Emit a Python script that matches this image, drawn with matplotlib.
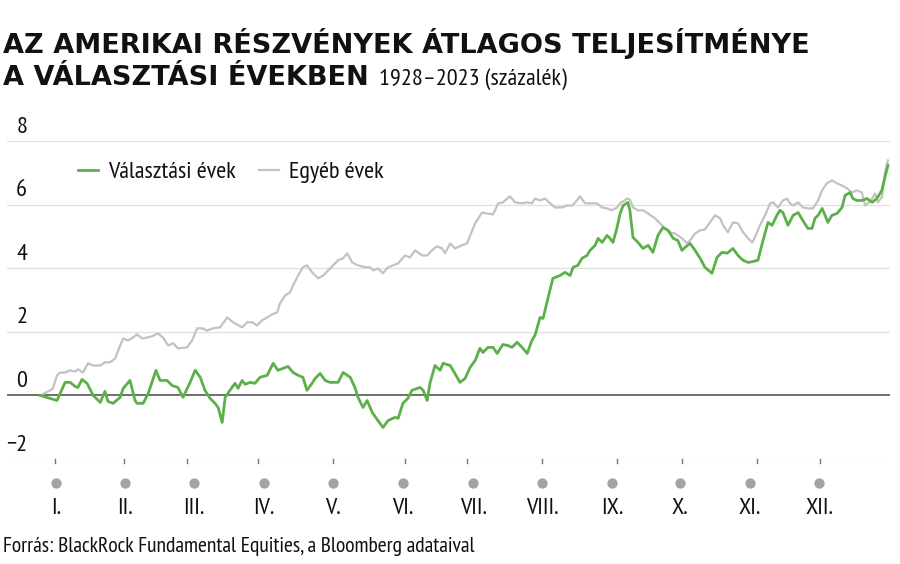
import matplotlib
matplotlib.use('Agg')
import matplotlib.pyplot as plt

plt.rcParams['font.family'] = ['PT Sans Narrow', 'Roboto Condensed', 'DejaVu Sans']

# trading day of the year and cumulative average return (%)
valasztasi_nap = [0, 5.0, 7.4, 8.9, 10.4, 11.2, 12.4, 13.9, 15.7, 17.8, 19.2, 20.1, 21.6, 23.7, 24.6,
                  26.6, 28.1, 28.7, 30.5, 32.0, 34.3, 35.5, 37.6, 39.1, 40.8, 42.3, 44.4, 45.9, 47.4,
                  48.8, 50.3, 51.8, 52.7, 53.9, 54.8, 56.2, 57.7, 58.6, 59.8, 60.7, 62.2, 63.6, 65.1,
                  67.2, 69.0, 70.4, 71.9, 73.4, 74.9, 76.4, 77.8, 79.0, 80.5, 81.4, 82.9, 84.4, 85.8,
                  88.2, 89.7, 91.8, 93.2, 94.1, 95.6, 96.8, 98.3, 100.0, 101.5, 103.0, 105.1, 106.0,
                  107.4, 108.9, 110.1, 112.5, 113.4, 114.6, 115.4, 116.9, 118.4, 119.3, 121.4, 122.8,
                  124.3, 125.8, 127.3, 128.8, 130.2, 131.1, 132.6, 134.1, 135.3, 137.0, 138.5, 139.7,
                  141.2, 142.7, 144.2, 145.6, 146.5, 148.0, 148.9, 150.4, 151.8, 153.9, 155.4, 156.9,
                  157.8, 159.2, 160.4, 161.9, 162.8, 164.3, 165.2, 166.4, 167.8, 168.7, 169.6, 170.8,
                  171.7, 172.6, 174.0, 174.6, 175.5, 177.0, 178.5, 180.0, 181.4, 182.9, 184.4, 185.9,
                  187.4, 188.8, 190.0, 190.9, 192.4, 193.9, 195.4, 196.8, 198.9, 200.4, 201.9, 203.4,
                  205.1, 206.6, 208.1, 209.6, 211.0, 212.5, 214.0, 215.5, 216.7, 218.1, 219.0, 219.9,
                  221.4, 222.9, 224.4, 225.8, 227.3, 228.5, 229.4, 230.3, 231.5, 232.4, 233.2, 234.4,
                  235.9, 237.4, 238.3, 239.8, 240.6, 241.8, 243.3, 244.8, 246.3, 247.7, 249.2, 250.1,
                  251.0]
valasztasi_ertek = [0.00, -0.16, 0.41, 0.41, 0.28, 0.25, 0.50, 0.38, 0.00, -0.22, 0.13, -0.19, -0.25,
                    -0.06, 0.22, 0.47, -0.16, -0.25, -0.25, 0.06, 0.79, 0.47, 0.47, 0.31, 0.25, -0.06,
                    0.41, 0.79, 0.57, 0.16, -0.09, -0.25, -0.38, -0.85, -0.06, 0.16, 0.38, 0.22, 0.47,
                    0.35, 0.41, 0.38, 0.57, 0.63, 1.01, 0.79, 0.85, 0.91, 0.72, 0.63, 0.57, 0.16, 0.38,
                    0.53, 0.69, 0.47, 0.41, 0.41, 0.72, 0.57, 0.25, -0.06, -0.38, -0.16, -0.53, -0.79,
                    -1.01, -0.79, -0.69, -0.72, -0.25, -0.09, 0.16, 0.25, 0.16, -0.16, 0.38, 0.94, 0.79,
                    1.01, 0.94, 0.69, 0.41, 0.53, 0.88, 1.10, 1.48, 1.35, 1.51, 1.51, 1.32, 1.60, 1.57,
                    1.51, 1.67, 1.51, 1.32, 1.73, 1.89, 2.45, 2.42, 3.08, 3.68, 3.77, 3.87, 3.77, 4.03,
                    4.09, 4.31, 4.40, 4.56, 4.72, 4.94, 4.81, 5.03, 4.94, 4.81, 5.28, 5.72, 5.97, 6.07,
                    5.82, 4.97, 4.81, 4.62, 4.72, 4.50, 5.03, 5.28, 5.19, 4.94, 4.87, 4.56, 4.65, 4.78,
                    4.56, 4.31, 4.03, 3.84, 4.34, 4.50, 4.47, 4.62, 4.40, 4.25, 4.18, 4.21, 4.25, 4.87,
                    5.44, 5.35, 5.66, 5.82, 5.75, 5.35, 5.66, 5.75, 5.50, 5.25, 5.25, 5.57, 5.66, 5.88,
                    5.66, 5.44, 5.66, 5.72, 5.91, 6.29, 6.38, 6.19, 6.13, 6.13, 6.19, 6.07, 6.19, 6.45,
                    6.86, 7.23]

egyeb_nap = [0, 3.0, 3.8, 5.0, 5.9, 7.4, 8.9, 10.4, 11.2, 12.7, 14.2, 15.7, 17.8, 19.2, 20.7, 22.2,
             23.7, 24.6, 26.0, 27.5, 28.7, 30.2, 31.7, 33.2, 34.9, 36.4, 37.9, 39.4, 40.8, 43.5, 45.0,
             46.5, 48.0, 49.4, 51.2, 53.3, 55.4, 57.1, 59.8, 61.3, 62.8, 64.2, 65.7, 67.2, 68.7, 70.2,
             71.0, 72.5, 74.0, 74.9, 76.4, 77.8, 79.0, 80.5, 82.3, 83.8, 85.8, 88.2, 89.7, 90.9, 92.4,
             94.1, 96.2, 97.7, 98.6, 100.0, 101.5, 103.0, 104.5, 106.0, 108.0, 109.5, 111.0, 113.1,
             114.6, 116.0, 117.5, 119.0, 119.9, 121.4, 122.8, 124.9, 126.4, 127.3, 128.8, 130.8, 132.3,
             134.1, 135.6, 137.0, 139.1, 140.6, 142.7, 144.2, 145.6, 146.5, 148.0, 149.5, 151.0, 152.4,
             154.5, 156.0, 157.5, 158.9, 159.8, 161.3, 162.8, 164.9, 166.4, 167.8, 169.3, 170.8, 171.7,
             173.8, 174.6, 175.5, 177.0, 178.5, 180.0, 182.0, 183.5, 185.0, 186.5, 188.0, 190.0, 191.5,
             192.4, 193.9, 195.4, 196.8, 198.3, 199.8, 201.3, 202.2, 203.6, 205.1, 206.6, 208.1, 209.6,
             210.8, 211.6, 213.1, 214.6, 216.1, 217.0, 218.4, 219.9, 221.1, 222.0, 222.9, 224.4, 225.8,
             227.3, 228.8, 230.3, 231.5, 232.9, 234.4, 235.9, 237.4, 238.9, 240.3, 241.8, 243.3, 244.2,
             245.1, 246.3, 247.2, 248.0, 249.2, 250.1, 251.0]
egyeb_ertek = [0.00, 0.16, 0.22, 0.63, 0.72, 0.72, 0.79, 0.75, 0.82, 0.72, 1.01, 0.94, 0.94, 1.04, 1.04,
               1.16, 1.57, 1.79, 1.73, 1.82, 1.92, 1.79, 1.82, 1.86, 1.95, 1.82, 1.57, 1.64, 1.48, 1.51,
               1.73, 2.11, 2.11, 2.04, 2.11, 2.14, 2.45, 2.30, 2.14, 2.30, 2.30, 2.20, 2.36, 2.45, 2.55,
               2.61, 2.89, 3.14, 3.24, 3.46, 3.77, 4.03, 4.09, 3.87, 3.68, 3.77, 3.99, 4.25, 4.31, 4.47,
               4.18, 4.09, 4.03, 4.03, 3.93, 3.99, 3.84, 4.03, 4.09, 4.15, 4.40, 4.34, 4.56, 4.40, 4.40,
               4.56, 4.69, 4.62, 4.47, 4.78, 4.62, 4.72, 4.78, 5.03, 5.41, 5.75, 5.72, 5.69, 6.04, 6.07,
               6.26, 6.07, 6.04, 6.07, 6.04, 6.19, 6.13, 6.19, 6.04, 5.91, 5.91, 5.97, 5.97, 6.13, 6.26,
               6.04, 6.04, 6.04, 5.91, 5.88, 5.82, 5.91, 6.04, 6.19, 6.16, 5.91, 5.82, 5.82, 5.72, 5.57,
               5.41, 5.25, 5.13, 5.09, 4.94, 4.78, 4.87, 5.09, 5.19, 5.22, 5.44, 5.66, 5.57, 5.35, 5.13,
               5.44, 5.41, 5.13, 4.94, 4.81, 4.97, 5.35, 5.66, 6.04, 6.07, 5.91, 6.13, 6.19, 6.04, 5.97,
               6.07, 5.91, 5.88, 5.88, 6.13, 6.45, 6.67, 6.76, 6.67, 6.60, 6.51, 6.38, 6.45, 6.38, 5.97,
               6.04, 6.19, 6.35, 6.07, 6.23, 7.01, 7.39]

honap_cimkek = ['I.', 'II.', 'III.', 'IV.', 'V.', 'VI.', 'VII.', 'VIII.', 'IX.', 'X.', 'XI.', 'XII.']
honap_kozep = [4.7, 25.2, 45.6, 66.3, 86.7, 107.4, 128.2, 148.6, 169.3, 189.4, 210.2, 230.6]
honap_kezdet = [4.4, 24.9, 43.5, 64.5, 86.7, 108.0, 126.4, 148.6, 170.8, 190.0, 212.2, 230.9]
y_tickek = [-2, 0, 2, 4, 6, 8]
sorozat_nevek = ['Választási évek', 'Egyéb évek']

ZOLD = '#5bb04a'
SZURKE = '#c2c2c2'
FEKETE = '#111111'
CIM_BETU = ['DejaVu Sans']

fig = plt.figure(figsize=(9, 5.64), dpi=100)
renderer = fig.canvas.get_renderer()


def meret(szoveg, cel_px, **kw):
    # font size that gives the text the width seen in the reference
    t = fig.text(0, 0, szoveg, fontsize=20, **kw)
    w = t.get_window_extent(renderer).width
    t.remove()
    return 20 * cel_px / w


fs = meret(sorozat_nevek[0], 127)
fs_forras = meret('Forrás: BlackRock Fundamental Equities, a Bloomberg adataival', 472)
fs_al = meret('1928–2023 (százalék)', 187)
fs_cim = meret('AZ AMERIKAI RÉSZVÉNYEK ÁTLAGOS TELJESÍTMÉNYE', 805,
               fontweight='bold', family=CIM_BETU)

ax = fig.add_axes([7/900, 1-459/564, 883/900, 318/564])
ax.set_xlim(-9.8, 251.6)
ax.set_ylim(-2, 8)
for s in ax.spines.values():
    s.set_visible(False)
ax.set_xticks([])
ax.set_yticks([])

for t in y_tickek:
    if t == 0:
        ax.axhline(t, color='#6e6e6e', lw=1.4, zorder=1)
    else:
        ax.axhline(t, color='#e0e0e0', lw=0.9, zorder=0)
    lbl = '\u22122' if t < 0 else str(t)
    ax.annotate(lbl, xy=(0, t), xycoords=('axes fraction', 'data'),
                xytext=(14.5, 2.5), textcoords='offset points',
                ha='right', va='bottom', fontsize=fs, color=FEKETE)

l1, = ax.plot(valasztasi_nap, valasztasi_ertek, color=ZOLD, lw=2.0, zorder=3,
              solid_joinstyle='round', clip_on=False)
l2, = ax.plot(egyeb_nap, egyeb_ertek, color=SZURKE, lw=1.6, zorder=2,
              solid_joinstyle='round', clip_on=False)

# month ticks, dots and labels under the axis
for x in honap_kezdet:
    ax.plot([x, x], [-2, -2.13], color='#777777', lw=1.0, clip_on=False)
ax.scatter(honap_kozep, [-2.75] * len(honap_kozep), s=55, color='#a3a3a3',
           clip_on=False, zorder=3, linewidths=0)
for x, c in zip(honap_kozep, honap_cimkek):
    ax.text(x, -3.55, c, ha='center', va='center', fontsize=fs, color=FEKETE)

fs_px = fs * 100 / 72
fig.legend([l1, l2], sorozat_nevek, loc='center left',
           bbox_to_anchor=(78/900, 1-172/564), ncol=2, frameon=False, fontsize=fs,
           handlelength=20/fs_px, handletextpad=10/fs_px, columnspacing=23/fs_px,
           borderpad=0, borderaxespad=0, labelcolor=FEKETE)

cim = dict(fontsize=fs_cim, fontweight='bold', va='baseline', ha='left', color=FEKETE,
           family=CIM_BETU)
fig.text(3/900, 1-53/564, 'AZ AMERIKAI RÉSZVÉNYEK ÁTLAGOS TELJESÍTMÉNYE', **cim)
t2 = fig.text(3/900, 1-85/564, 'A VÁLASZTÁSI ÉVEKBEN', **cim)
bb = t2.get_window_extent(renderer)
fig.text((bb.x1 + 10)/900, 1-85/564, '1928–2023 (százalék)', fontsize=fs_al,
         va='baseline', ha='left', color=FEKETE)

fig.text(3/900, 1-552/564, 'Forrás: BlackRock Fundamental Equities, a Bloomberg adataival',
         fontsize=fs_forras, va='baseline', ha='left', color=FEKETE)

fig.savefig('out.png', dpi=100)
